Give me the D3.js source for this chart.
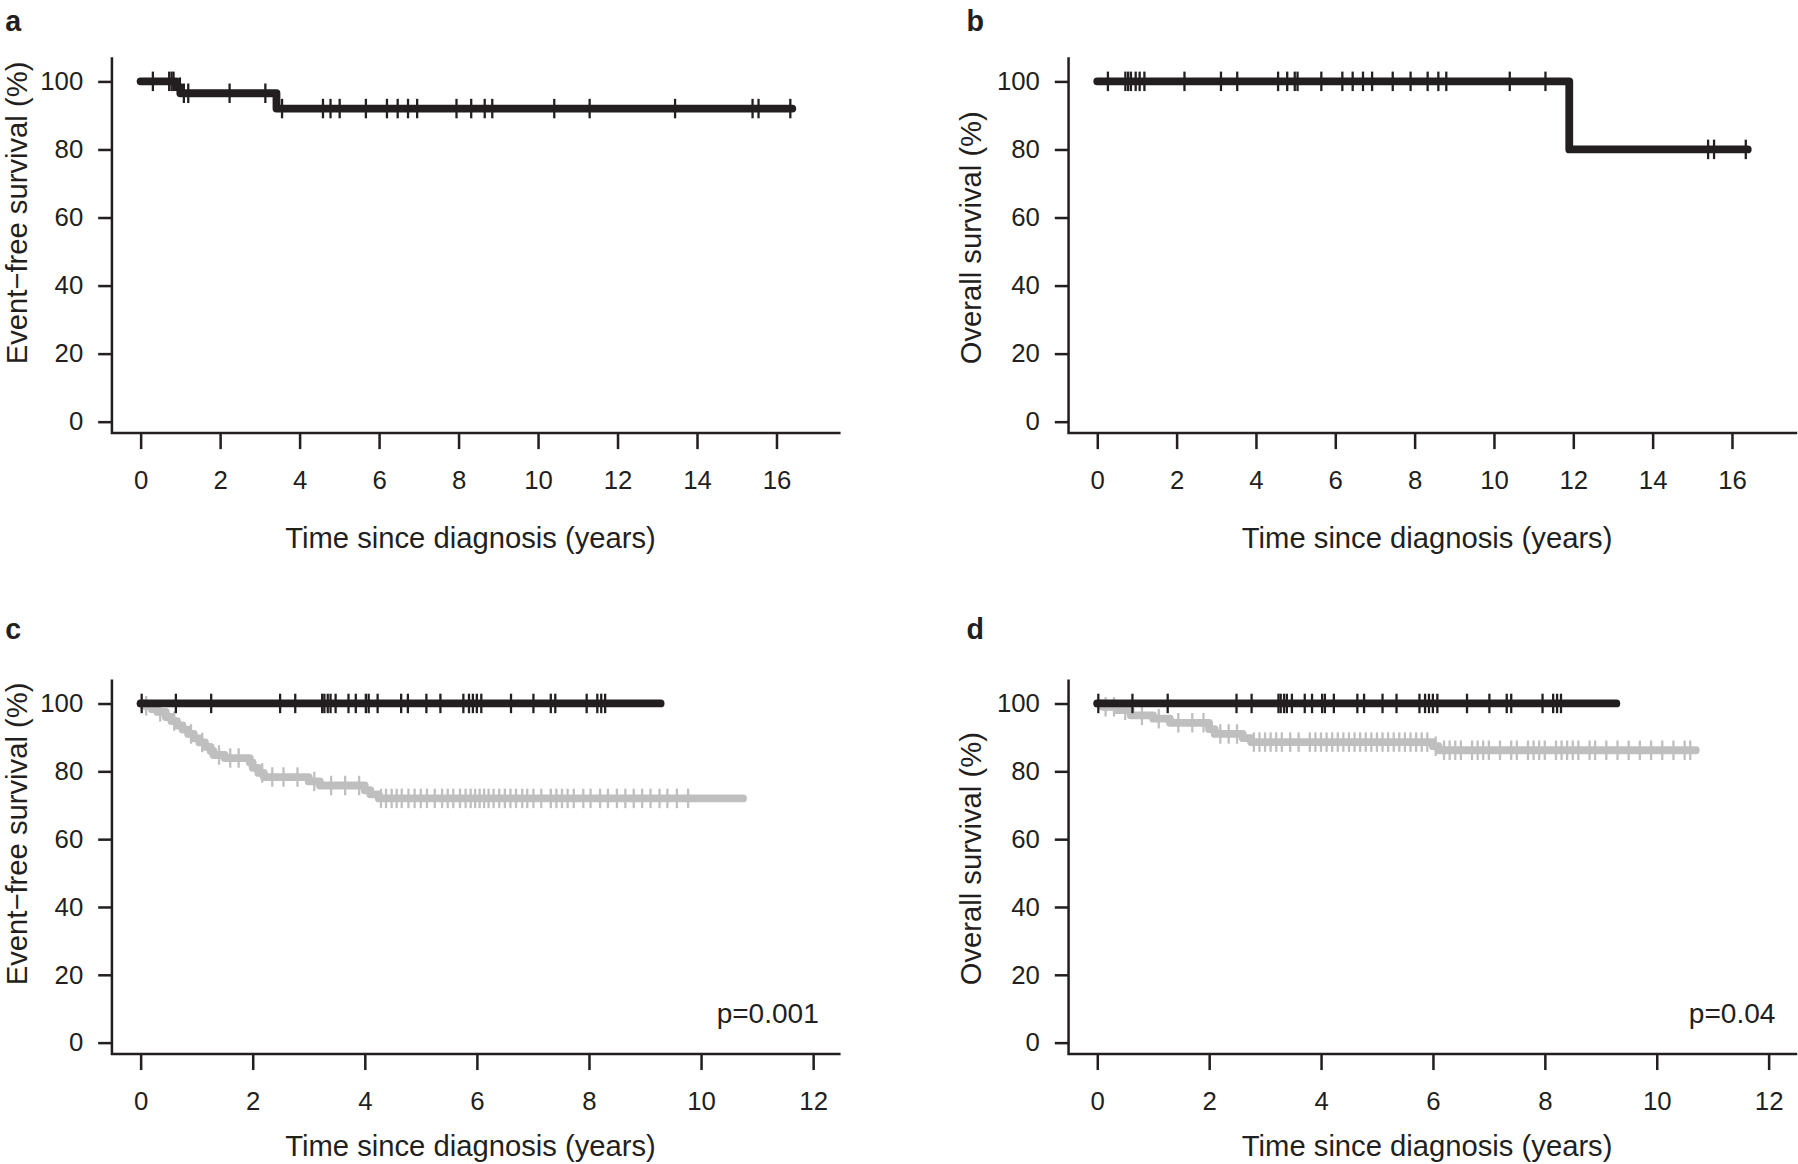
<!DOCTYPE html>
<html>
<head>
<meta charset="utf-8">
<script src="https://cdn.jsdelivr.net/npm/d3@7"></script>
<style>
body { margin: 0; background: #fff; }
text { font-family: "Liberation Sans", Arial, sans-serif; fill: #231f20; }
</style>
</head>
<body>
<div id="chart"></div>
<script>
var width = 1798,
    height = 1164,
    vbW = 1568,
    vbH = 1016;

var dark = '#231f20',
    grey = '#bfbfbf';

// panel a - event-free survival, whole cohort
var efsEventTimes = [0.9, 1.0, 3.42];
var efsEventSurv = [98.3, 96.5, 92.0];
var efsEnd = 16.4;
var efsCensor = [0.31, 0.72, 0.78, 0.83, 0.99, 1.09, 1.2, 2.24, 3.14, 3.56, 4.59, 4.78, 5.01,
    5.67, 6.2, 6.47, 6.73, 6.96, 7.95, 8.32, 8.66, 8.85, 10.41, 11.3, 13.45, 15.4, 15.55, 16.35];

// panel b - overall survival, whole cohort
var osEventTimes = [11.9];
var osEventSurv = [80];
var osEnd = 16.4;
var osCensor = [0.27, 0.71, 0.78, 0.85, 0.97, 1.07, 1.19, 2.2, 3.12, 3.53, 4.56, 4.79, 4.98, 5.05,
    5.65, 6.18, 6.44, 6.7, 6.93, 7.45, 7.9, 8.33, 8.6, 8.8, 10.4, 11.3, 15.4, 15.55, 16.35];

// panels c/d - black group (no events)
var blackEnd = 9.28;
var blackCensor = [0.02, 0.63, 1.26, 2.49, 2.76, 3.24, 3.28, 3.34, 3.39, 3.48, 3.71, 3.84, 4.02,
    4.07, 4.23, 4.65, 4.77, 5.1, 5.35, 5.76, 5.86, 5.93, 6.0, 6.08, 6.61, 7.01, 7.32, 7.4,
    7.96, 8.15, 8.22, 8.29];

// panel c - grey group, event-free survival
var greyEfsTimes = [0.05, 0.2, 0.3, 0.45, 0.55, 0.65, 0.75, 0.85, 0.95, 1.05, 1.15, 1.25, 1.3,
    1.5, 1.95, 2.0, 2.1, 2.2, 3.0, 3.2, 4.0, 4.1, 4.25];
var greyEfsSurv = [99.3, 98.3, 97.5, 96.0, 94.8, 93.5, 92.3, 91.0, 89.7, 88.5, 87.2, 86.0, 84.8,
    83.9, 82.6, 81.0, 79.5, 78.3, 77.0, 75.8, 74.4, 73.2, 72.0];
var greyEfsEnd = 10.75;
var greyEfsCensor = [0.1, 0.35, 0.6, 0.9, 1.1, 1.4, 1.6, 1.75, 2.17, 2.35, 2.55, 2.8, 3.1, 3.4,
    3.65, 3.9, 4.29, 4.38, 4.48, 4.57, 4.66, 4.78, 4.89, 5.0, 5.11, 5.25, 5.38, 5.48, 5.58, 5.7,
    5.8, 5.89, 5.97, 6.05, 6.13, 6.21, 6.3, 6.4, 6.5, 6.6, 6.7, 6.81, 6.9, 7.01, 7.15, 7.32,
    7.42, 7.52, 7.62, 7.73, 7.9, 8.03, 8.2, 8.34, 8.5, 8.65, 8.8, 8.95, 9.1, 9.26, 9.4, 9.57, 9.77];

// panel d - grey group, overall survival
var greyOsTimes = [0.1, 0.35, 0.6, 1.0, 1.3, 2.0, 2.1, 2.6, 2.75, 6.0, 6.1];
var greyOsSurv = [99.0, 98.0, 96.5, 95.5, 94.3, 92.4, 91.0, 89.8, 88.6, 87.4, 86.2];
var greyOsEnd = 10.7;
var greyOsCensor = [0.15, 0.3, 0.5, 0.8, 1.1, 1.45, 1.7, 1.9, 2.2, 2.35, 2.5, 2.8, 2.9, 3.0, 3.1,
    3.2, 3.3, 3.45, 3.6, 3.8, 3.9, 4.0, 4.1, 4.2, 4.3, 4.4, 4.5, 4.6, 4.7, 4.8, 4.9, 5.0, 5.1,
    5.2, 5.3, 5.4, 5.5, 5.6, 5.7, 5.8, 5.9, 6.05, 6.2, 6.3, 6.4, 6.5, 6.7, 6.8, 6.9, 7.0, 7.2,
    7.4, 7.5, 7.7, 7.8, 7.9, 8.0, 8.2, 8.3, 8.4, 8.5, 8.6, 8.8, 8.9, 9.1, 9.3, 9.5, 9.7, 9.9,
    10.1, 10.3, 10.5, 10.6];

var yTicks = [0, 20, 40, 60, 80, 100];
var xTicksLong = [0, 2, 4, 6, 8, 10, 12, 14, 16];
var xTicksShort = [0, 2, 4, 6, 8, 10, 12];

var xTitle = 'Time since diagnosis (years)';

var svg = d3.select('#chart').append('svg')
    .attr('width', width)
    .attr('height', height)
    .attr('viewBox', '0 0 ' + vbW + ' ' + vbH);

function survAt(times, surv, t){
    var s = 100;
    for (var i = 0; i < times.length; i++){
        if (times[i] <= t) s = surv[i];
    }
    return s;
}

function drawPanel(p){
    var g = svg.append('g')
        .attr('transform', 'translate(' + [p.ox, p.oy] + ')');

    var x = d3.scaleLinear().domain(p.xDomain).range(p.xRange);
    var y = d3.scaleLinear().domain([0, 100]).range(p.yRange);

    // L-shaped frame
    g.append('path')
        .attr('d', 'M0,0V' + p.h + 'H' + p.w)
        .attr('fill', 'none')
        .attr('stroke', dark)
        .attr('stroke-width', 2.2);

    var yAxis = g.append('g')
        .call(d3.axisLeft(y).tickValues(yTicks).tickSize(12).tickPadding(13));
    var xAxis = g.append('g')
        .attr('transform', 'translate(0,' + p.h + ')')
        .call(d3.axisBottom(x).tickValues(p.xTicks).tickSize(14).tickPadding(19));

    [yAxis, xAxis].forEach(function(ax){
        ax.select('.domain').remove();
        ax.selectAll('line').attr('stroke', dark).attr('stroke-width', 2.2);
        ax.selectAll('text')
            .style('font-family', '"Liberation Sans", Arial, sans-serif')
            .style('font-size', '22.5px')
            .attr('fill', dark);
    });
    yAxis.selectAll('.tick line').attr('x2', -12);
    yAxis.selectAll('text').attr('x', -25);

    g.append('text')
        .attr('x', p.w / 2 - 5)
        .attr('y', p.h + p.titleDy)
        .attr('text-anchor', 'middle')
        .style('font-size', '25.5px')
        .text(xTitle);

    // y title starts at a fixed height, as in the reference
    g.append('text')
        .attr('transform', 'translate(' + p.yTitleX + ',' + (p.h - 60) + ') rotate(-90)')
        .attr('text-anchor', 'start')
        .style('font-size', '25.5px')
        .text(p.yTitle);

    svg.append('text')
        .attr('x', p.labelX)
        .attr('y', p.labelY)
        .style('font-size', '25px')
        .style('font-weight', 'bold')
        .text(p.label);

    if (p.pText){
        g.append('text')
            .attr('x', p.w - 19)
            .attr('y', p.h - 27)
            .attr('text-anchor', 'end')
            .style('font-size', '24.5px')
            .text(p.pText);
    }

    var line = d3.line()
        .x(function(d){ return x(d[0]); })
        .y(function(d){ return y(d[1]); })
        .curve(d3.curveStepAfter);

    p.curves.forEach(function(c){
        var pts = [[0, 100]];
        c.times.forEach(function(t, i){ pts.push([t, c.surv[i]]); });
        pts.push([c.end, c.surv.length ? c.surv[c.surv.length - 1] : 100]);

        g.append('path')
            .datum(pts)
            .attr('d', line)
            .attr('fill', 'none')
            .attr('stroke', c.color)
            .attr('stroke-width', 6.8)
            .attr('stroke-linejoin', 'round')
            .attr('stroke-linecap', 'round');

        g.selectAll(null)
            .data(c.censor)
            .enter().append('line')
            .attr('x1', function(d){ return x(d); })
            .attr('x2', function(d){ return x(d); })
            .attr('y1', function(d){ return y(survAt(c.times, c.surv, d)) - 8.5; })
            .attr('y2', function(d){ return y(survAt(c.times, c.surv, d)) + 8.5; })
            .attr('stroke', c.color)
            .attr('stroke-width', 2);
    });
}

drawPanel({
    ox: 97, oy: 50, w: 636, h: 328,
    xDomain: [0, 16], xRange: [25, 580], yRange: [318, 21],
    xTicks: xTicksLong, titleDy: 100, yTitleX: -74,
    yTitle: 'Event\u2212free survival (%)',
    label: 'a', labelX: 4, labelY: 27,
    curves: [{ times: efsEventTimes, surv: efsEventSurv, end: efsEnd, censor: efsCensor, color: dark }]
});

drawPanel({
    ox: 932, oy: 50, w: 636, h: 328,
    xDomain: [0, 16], xRange: [25, 579], yRange: [318, 21],
    xTicks: xTicksLong, titleDy: 100, yTitleX: -76,
    yTitle: 'Overall survival (%)',
    label: 'b', labelX: 843, labelY: 27,
    curves: [{ times: osEventTimes, surv: osEventSurv, end: osEnd, censor: osCensor, color: dark }]
});

drawPanel({
    ox: 97, oy: 593, w: 636, h: 327,
    xDomain: [0, 12], xRange: [25, 612], yRange: [317, 21],
    xTicks: xTicksShort, titleDy: 89, yTitleX: -74,
    yTitle: 'Event\u2212free survival (%)',
    label: 'c', labelX: 4, labelY: 558, pText: 'p=0.001',
    curves: [
        { times: greyEfsTimes, surv: greyEfsSurv, end: greyEfsEnd, censor: greyEfsCensor, color: grey },
        { times: [], surv: [], end: blackEnd, censor: blackCensor, color: dark }
    ]
});

drawPanel({
    ox: 932, oy: 593, w: 636, h: 327,
    xDomain: [0, 12], xRange: [25, 611], yRange: [317, 21],
    xTicks: xTicksShort, titleDy: 89, yTitleX: -76,
    yTitle: 'Overall survival (%)',
    label: 'd', labelX: 843, labelY: 558, pText: 'p=0.04',
    curves: [
        { times: greyOsTimes, surv: greyOsSurv, end: greyOsEnd, censor: greyOsCensor, color: grey },
        { times: [], surv: [], end: blackEnd, censor: blackCensor, color: dark }
    ]
});
</script>
</body>
</html>
